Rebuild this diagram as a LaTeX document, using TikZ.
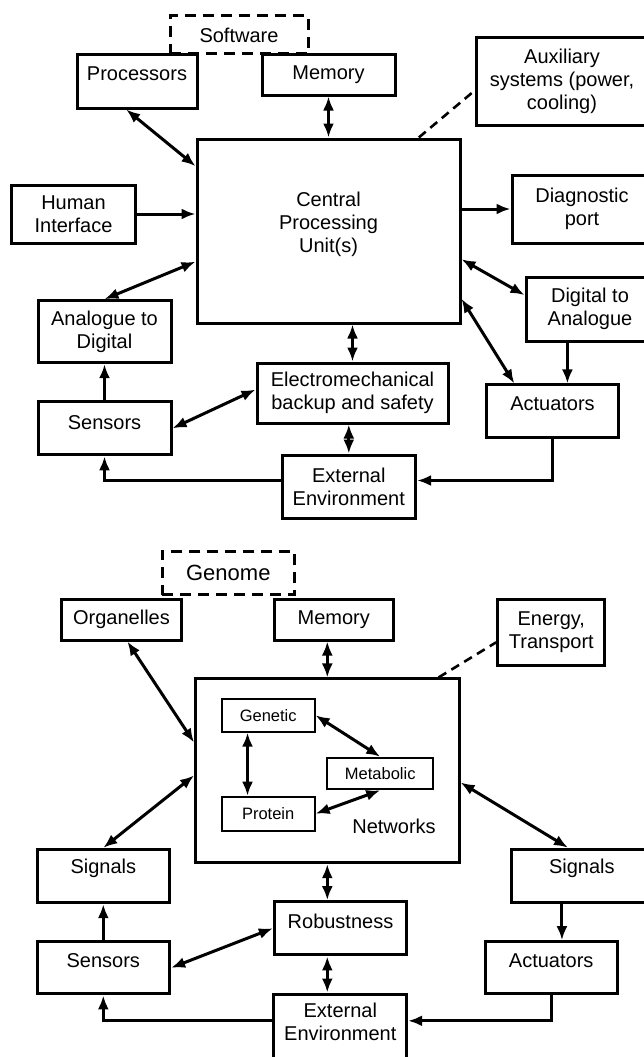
\documentclass[tikz,border=0pt]{standalone}
\usepackage{fontspec}
\setmainfont{Liberation Sans}
\usetikzlibrary{arrows.meta}

\begin{document}
\begin{tikzpicture}[x=1pt, y=-1pt,
        font=\fontsize{20}{23}\selectfont,
        blk/.style={draw, line width=3pt, align=center, inner sep=1pt},
        dblk/.style={blk, dash pattern=on 11pt off 7pt},
        sblk/.style={draw, line width=2pt, inner sep=1pt, font=\fontsize{16.5}{19}\selectfont},
        both/.style={line width=3pt, {Latex[length=14pt,width=11pt]}-{Latex[length=14pt,width=11pt]}},
        fwd/.style={line width=3pt, -{Latex[length=14pt,width=11pt]}},
        link/.style={line width=2.6pt, dash pattern=on 9pt off 6pt}]
            \useasboundingbox (0,0) rectangle (644,1057);
            % computer
            \node[dblk, minimum width=138pt, minimum height=38pt] (soft) at (239,35) {Software};
            \node[blk, minimum width=120pt, minimum height=53pt, text depth=15pt] (proc) at (137,81.5) {Processors};
            \node[blk, minimum width=133pt, minimum height=40pt] (memA) at (328.5,75) {Memory};
            \node[blk, minimum width=172pt, minimum height=87pt] (aux) at (562,81.5) {Auxiliary\\systems (power,\\cooling)};
            \node[blk, minimum width=263pt, minimum height=184pt, text depth=17pt] (cpu) at (328.5,231) {Central\\Processing\\Unit(s)};
            \node[blk, minimum width=124pt, minimum height=58pt] (hum) at (73.5,214) {Human\\Interface};
            \node[blk, minimum width=140pt, minimum height=68pt] (diag) at (582,209) {Diagnostic\\port};
            \node[blk, minimum width=133pt, minimum height=62pt] (a2d) at (104.5,331.7) {Analogue to\\Digital};
            \node[blk, minimum width=133pt, minimum height=53pt, text depth=12pt] (sensA) at (104.5,428.3) {Sensors};
            \node[blk, minimum width=191pt, minimum height=60pt] (emb) at (352.5,393) {Electromechanical\\backup and safety};
            \node[blk, minimum width=133.6pt, minimum height=63pt] (extA) at (348.8,486.5) {External\\Environment};
            \node[blk, minimum width=128pt, minimum height=64pt] (d2a) at (590,309) {Digital to\\Analogue};
            \node[blk, minimum width=132pt, minimum height=52.5pt, text depth=16pt] (actA) at (552.5,411.2) {Actuators};

            \draw[link] (cpu.46.8) -- (aux.186);
            \draw[both] (proc.-111) -- (cpu.154);
            \draw[both] (memA) -- (cpu);
            \draw[fwd] (hum.east) -- (hum.east -| cpu.west);
            \draw[fwd] (diag.west -| cpu.east) -- (diag.west);
            \draw[both] (cpu.193) -- (a2d.north);
            \draw[both] (emb.north |- cpu.south) -- (emb.north);
            \draw[both] (extA.north |- emb.south) -- (extA.north);
            \draw[fwd] (sensA) -- (a2d);
            \draw[both] (sensA.east) -- (emb.178);
            \draw[fwd] (extA.175) -| (sensA.south);
            \draw[fwd] (actA.south) |- (extA.5);
            \draw[both] (cpu.-12) -- (d2a.168);
            \draw[both] (cpu.-27) -- (actA.144);
            \draw[fwd] (d2a.-124) -- (d2a.-124 |- actA.north);

            % cell
            \node[dblk, minimum width=132.5pt, minimum height=43.3pt, font=\fontsize{22}{25}\selectfont] (genome) at (228.3,573.3) {Genome};
            \node[blk, minimum width=120pt, minimum height=41pt] (org) at (121.5,619.5) {Organelles};
            \node[blk, minimum width=119.4pt, minimum height=41pt] (memB) at (333.7,619.5) {Memory};
            \node[blk, minimum width=107.3pt, minimum height=66.7pt] (energy) at (551.3,632.6) {Energy,\\Transport};
            \node[blk, minimum width=263.5pt, minimum height=183.7pt] (net) at (327.3,770.8) {};
            \node[sblk, minimum width=92.8pt, minimum height=32.7pt] (gen) at (268.2,715.3) {Genetic};
            \node[sblk, minimum width=105.7pt, minimum height=31.6pt] (meta) at (380.2,773.5) {Metabolic};
            \node[sblk, minimum width=92.8pt, minimum height=34pt] (prot) at (268.2,813.7) {Protein};
            \node (netlbl) at (394,826.7) {Networks};
            \node[blk, minimum width=132.6pt, minimum height=53.4pt, text depth=20pt] (sigL) at (103.3,876) {Signals};
            \node[blk, minimum width=132.6pt, minimum height=52.3pt, text depth=14pt] (sensB) at (103.3,967.8) {Sensors};
            \node[blk, minimum width=132.3pt, minimum height=53.3pt, text depth=14pt] (rob) at (340.5,928.3) {Robustness};
            \node[blk, minimum width=132.7pt, minimum height=80pt, text depth=25pt] (extB) at (340.3,1034) {External\\Environment};
            \node[blk, minimum width=140pt, minimum height=53.7pt, text depth=20pt] (sigR) at (581.8,876) {Signals};
            \node[blk, minimum width=132.3pt, minimum height=52.3pt, text depth=14pt] (actB) at (551.2,967.8) {Actuators};

            \draw[link] (net.40.6) -- (energy.190);
            \draw[both] (net.north) -- (net.north |- memB.south);
            \draw[both] (org.-75) -- (net.168);
            \draw[both] (gen.220) -- (gen.220 |- prot.north);
            \draw[both] (gen.east) -- (meta.north);
            \draw[both] (prot.east) -- (meta.south);
            \draw[both] (net.182) -- (sigL.north);
            \draw[both] (net.-5) -- (sigR.116);
            \draw[both] (net.south) -- (net.south |- rob.north);
            \draw[both] (rob.south -| net.south) -- (extB.north -| net.south);
            \draw[fwd] (sensB) -- (sigL);
            \draw[both] (sensB.east) -- (rob.west);
            \draw[fwd] (extB.169) -| (sensB.south);
            \draw[fwd] (actB.south) |- (extB.11);
            \draw[fwd] (sigR.-125) -- (sigR.-125 |- actB.north);
\end{tikzpicture}
\end{document}
